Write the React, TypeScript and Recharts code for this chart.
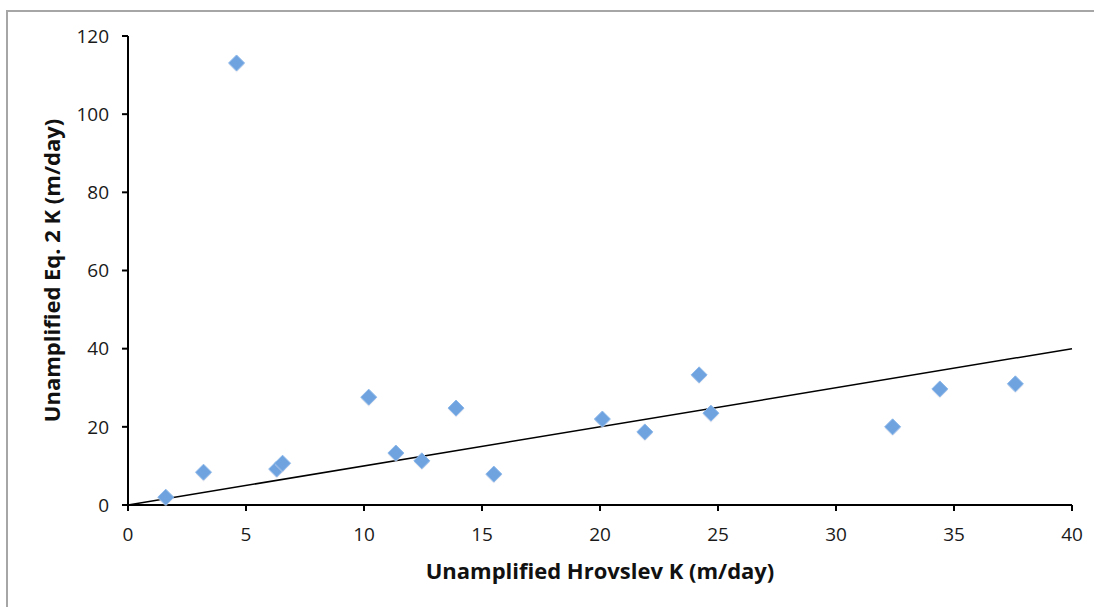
import React from 'react';
import { ScatterChart, Scatter, XAxis, YAxis, ReferenceLine } from 'recharts';

const hrovslevK = [1.6, 3.2, 4.6, 6.3, 6.55, 10.2, 11.35, 12.45, 13.9, 15.5, 20.1, 21.9, 24.2, 24.7, 32.4, 34.4, 37.6];
const eq2K = [2.0, 8.4, 113.1, 9.2, 10.7, 27.6, 13.3, 11.3, 24.8, 7.9, 22.0, 18.7, 33.3, 23.5, 20.0, 29.7, 31.0];
const xTicks = [0, 5, 10, 15, 20, 25, 30, 35, 40];
const yTicks = [0, 20, 40, 60, 80, 100, 120];

const points = hrovslevK.map((x, i) => ({ x, y: eq2K[i] }));

const FONT = '"Open Sans", Lato, sans-serif';

// diamond marker like the Excel default
const Diamond = (props: any) => {
  const { cx, cy } = props;
  const r = 8;
  return (
    <g>
      <path
        d={`M${cx},${cy - r} L${cx + r},${cy} L${cx},${cy + r} L${cx - r},${cy} Z`}
        fill="#d9d9e6"
        opacity={0.5}
        transform="translate(0,1.5)"
      />
      <path
        d={`M${cx},${cy - r} L${cx + r},${cy} L${cx},${cy + r} L${cx - r},${cy} Z`}
        fill="#6fa3df"
        stroke="#8cb8ea"
        strokeWidth={1}
      />
    </g>
  );
};

const YTitle = (props: any) => {
  const { viewBox } = props;
  const x = viewBox.x + 3;
  const y = viewBox.y + viewBox.height / 2;
  return (
    <text
      x={x}
      y={y}
      transform={`rotate(-90, ${x}, ${y})`}
      textAnchor="middle"
      dominantBaseline="central"
      style={{ fontFamily: FONT, fontSize: 22, fontWeight: 700, fill: '#111' }}
    >
      Unamplified Eq. 2 K (m/day)
    </text>
  );
};

const XTitle = (props: any) => {
  const { viewBox } = props;
  const x = viewBox.x + viewBox.width / 2;
  return (
    <text
      x={x}
      y={viewBox.y + 74}
      textAnchor="middle"
      style={{ fontFamily: FONT, fontSize: 22, fontWeight: 700, fill: '#111' }}
    >
      Unamplified Hrovslev K (m/day)
    </text>
  );
};

export default function App() {
  return (
    <div style={{ position: 'absolute', left: 0, top: 0, width: 1094, height: 607, overflow: 'hidden', background: '#fff' }}>
      <div style={{ position: 'absolute', left: 6, top: 10, width: 2000, height: 2000, border: '2px solid #a6a6a6' }} />
      <div style={{ position: 'absolute', left: 0, top: 0 }}>
        <ScatterChart width={1094} height={607} margin={{ top: 36, right: 22, left: 48, bottom: 42 }}>
          <XAxis
            type="number"
            dataKey="x"
            domain={[0, 40]}
            ticks={xTicks}
            height={60}
            tickSize={6}
            tickMargin={17}
            stroke="#000"
            strokeWidth={2}
            tick={{ fontFamily: FONT, fontSize: 19, fill: '#1a1a1a' }}
            label={{ content: XTitle }}
          />
          <YAxis
            type="number"
            dataKey="y"
            domain={[0, 120]}
            ticks={yTicks}
            width={80}
            tickSize={6}
            tickMargin={13}
            stroke="#000"
            strokeWidth={2}
            tick={{ fontFamily: FONT, fontSize: 19, fill: '#1a1a1a' }}
            label={{ content: YTitle }}
          />
          <ReferenceLine
            segment={[{ x: 0, y: 0 }, { x: 40, y: 40 }]}
            stroke="#000"
            strokeWidth={1.5}
            ifOverflow="visible"
          />
          <Scatter data={points} shape={Diamond} isAnimationActive={false} />
        </ScatterChart>
      </div>
    </div>
  );
}
